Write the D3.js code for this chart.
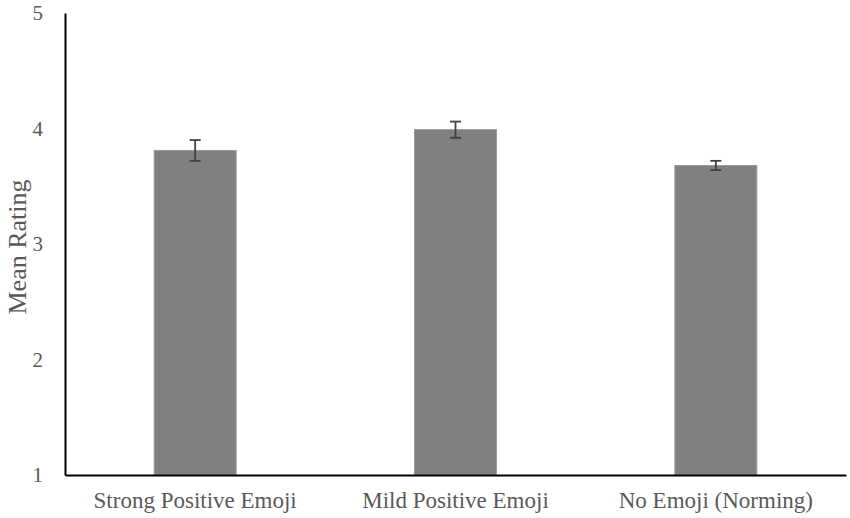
<!DOCTYPE html>
<html><head><meta charset="utf-8">
<script src="https://cdn.jsdelivr.net/npm/d3@7"></script>
<style>body{margin:0;background:#fff}</style>
</head><body>
<svg id="chart" width="850" height="518"></svg>
<script>
const categories = ["Strong Positive Emoji", "Mild Positive Emoji", "No Emoji (Norming)"];
const means = [3.81, 3.99, 3.68];
const errors = [0.09, 0.07, 0.04];
const yTicks = [1, 2, 3, 4, 5];

const svg = d3.select("#chart");
const mLeft = 65, mRight = 846, mTop = 13, mBottom = 475;
const font = "'Liberation Serif', 'Times New Roman', serif";

const x = d3.scaleBand().domain(categories).range([mLeft, mRight]).paddingInner(0.685).paddingOuter(0.3425);
const y = d3.scaleLinear().domain([1, 5]).range([mBottom, mTop]);

// bars
svg.selectAll("rect.bar").data(categories).join("rect")
  .attr("class", "bar")
  .attr("x", d => x(d))
  .attr("width", x.bandwidth())
  .attr("y", (d, i) => y(means[i]))
  .attr("height", (d, i) => y(1) - y(means[i]))
  .attr("fill", "#808080")
  .attr("stroke", "#9a9a9a")
  .attr("stroke-width", 1);

// error bars
const eg = svg.selectAll("g.err").data(categories).join("g").attr("class", "err")
  .attr("stroke", "#404040").attr("stroke-width", 1.8);
eg.append("line")
  .attr("x1", d => x(d) + x.bandwidth() / 2).attr("x2", d => x(d) + x.bandwidth() / 2)
  .attr("y1", (d, i) => y(means[i] + errors[i])).attr("y2", (d, i) => y(means[i] - errors[i]));
eg.append("line")
  .attr("x1", d => x(d) + x.bandwidth() / 2 - 5.5).attr("x2", d => x(d) + x.bandwidth() / 2 + 5.5)
  .attr("y1", (d, i) => y(means[i] + errors[i])).attr("y2", (d, i) => y(means[i] + errors[i]));
eg.append("line")
  .attr("x1", d => x(d) + x.bandwidth() / 2 - 5.5).attr("x2", d => x(d) + x.bandwidth() / 2 + 5.5)
  .attr("y1", (d, i) => y(means[i] - errors[i])).attr("y2", (d, i) => y(means[i] - errors[i]));

// y axis
const yAxis = svg.append("g").attr("transform", `translate(${mLeft},0)`)
  .call(d3.axisLeft(y).tickValues(yTicks).tickSize(0).tickPadding(22).tickFormat(d3.format("d")));
yAxis.select(".domain").attr("stroke", "#000").attr("stroke-width", 2);
yAxis.selectAll("text").attr("font-family", font).attr("font-size", 21).attr("fill", "#595959");

// x axis
const xAxis = svg.append("g").attr("transform", `translate(0,${mBottom})`)
  .call(d3.axisBottom(x).tickSize(0).tickPadding(17));
xAxis.select(".domain").attr("stroke", "#000").attr("stroke-width", 2);
xAxis.selectAll("text").attr("font-family", font).attr("font-size", 23).attr("fill", "#595959");

// y title
svg.append("text")
  .attr("transform", `translate(26,247) rotate(-90)`)
  .attr("text-anchor", "middle")
  .attr("font-family", font).attr("font-size", 26).attr("fill", "#595959")
  .text("Mean Rating");
</script>
</body></html>
